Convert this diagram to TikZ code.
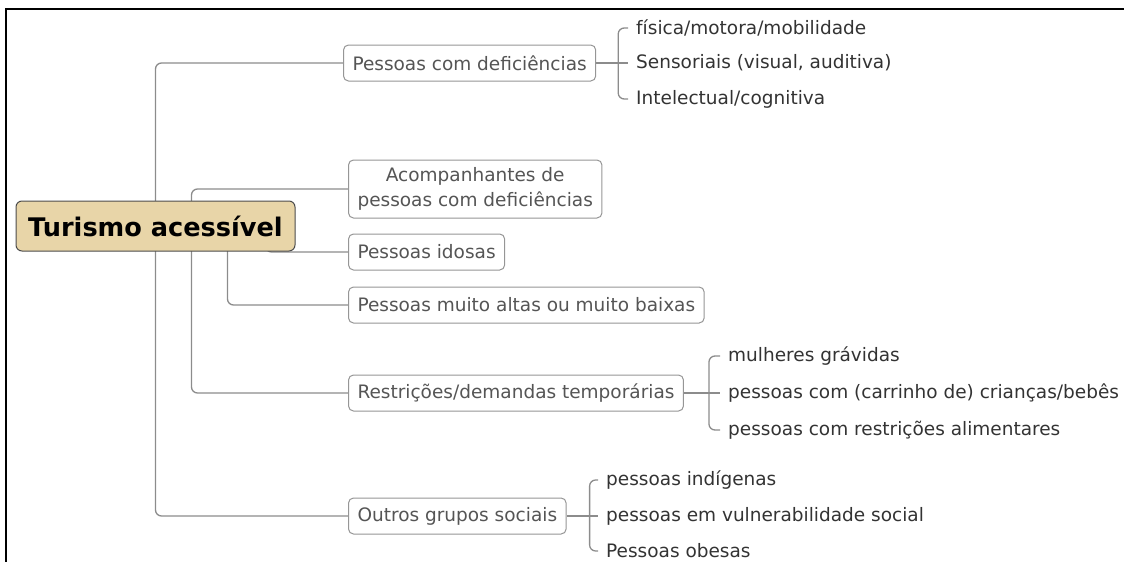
\documentclass[tikz,border=0pt]{standalone}
\usepackage{fontspec}
\setmainfont{DejaVu Sans}
\usetikzlibrary{backgrounds}
\definecolor{rootfill}{RGB}{232,213,168}
\definecolor{linegray}{RGB}{140,140,140}
\definecolor{boxgray}{RGB}{150,150,150}
\definecolor{textgray}{RGB}{85,85,85}
\begin{document}
\begin{tikzpicture}[x=1pt,y=-1pt,
    root/.style={draw=black!70, fill=rootfill, rounded corners=6pt, line width=1pt,
      minimum width=279pt, minimum height=50pt, font=\bfseries\fontsize{25.6}{30}\selectfont},
    topic/.style={draw=boxgray, fill=white, rounded corners=5pt, line width=1pt, text=textgray,
      font=\fontsize{18.5}{25}\selectfont, inner xsep=9pt, minimum height=36pt, anchor=west},
    leaf/.style={text=black!80, font=\fontsize{18.5}{22}\selectfont, inner xsep=8pt, anchor=west},
    conn/.style={draw=linegray, line width=1.3pt, rounded corners=6pt}]
  \useasboundingbox (0,0) rectangle (1124,562);

  % frame
  \draw[line width=2pt] (6,562) -- (6,9) -- (1124,9);

  \node[root] (root) at (155.5,226) {Turismo acessível};

  % first level
  \node[topic] (defic) at (343,63) {Pessoas com deficiências};
  \node[topic, align=center, minimum height=58pt] (acomp) at (348,189) {Acompanhantes de\\pessoas com deficiências};
  \node[topic] (idosas) at (348,252) {Pessoas idosas};
  \node[topic] (altas) at (348,305) {Pessoas muito altas ou muito baixas};
  \node[topic] (restr) at (348,393) {Restrições/demandas temporárias};
  \node[topic] (outros) at (348,516) {Outros grupos sociais};

  % leaves
  \node[leaf] (fisica) at (628,28) {física/motora/mobilidade};
  \node[leaf] (sensor) at (628,63) {Sensoriais (visual, auditiva)};
  \node[leaf] (intel) at (628,99) {Intelectual/cognitiva};
  \node[leaf] (gravidas) at (720,356) {mulheres grávidas};
  \node[leaf] (bebes) at (720,393) {pessoas com (carrinho de) crianças/bebês};
  \node[leaf] (aliment) at (720,430) {pessoas com restrições alimentares};
  \node[leaf] (indig) at (598,480) {pessoas indígenas};
  \node[leaf] (vulner) at (598,516) {pessoas em vulnerabilidade social};
  \node[leaf] (obesas) at (598,551) {Pessoas obesas};

  \begin{scope}[on background layer]
    % trunks
    \draw[conn] (root.center) |- (defic.west);
    \draw[conn] (root.center) |- (outros.west);
    \draw[conn] ([xshift=36pt]root.center) |- (acomp.west);
    \draw[conn] ([xshift=36pt]root.center) |- (restr.west);
    \draw[conn] ([xshift=72pt]root.center) |- (altas.west);
    \draw[conn] ([xshift=110pt]root.center) |- (idosas.west);

    % brackets
    \draw[conn] (defic.east) -- (sensor.west);
    \draw[conn] ([xshift=22pt]defic.east) |- (fisica.west);
    \draw[conn] ([xshift=22pt]defic.east) |- (intel.west);
    \draw[conn] (restr.east) -- (bebes.west);
    \draw[conn] ([xshift=25pt]restr.east) |- (gravidas.west);
    \draw[conn] ([xshift=25pt]restr.east) |- (aliment.west);
    \draw[conn] (outros.east) -- (vulner.west);
    \draw[conn] ([xshift=23pt]outros.east) |- (indig.west);
    \draw[conn] ([xshift=23pt]outros.east) |- (obesas.west);
  \end{scope}
\end{tikzpicture}
\end{document}
